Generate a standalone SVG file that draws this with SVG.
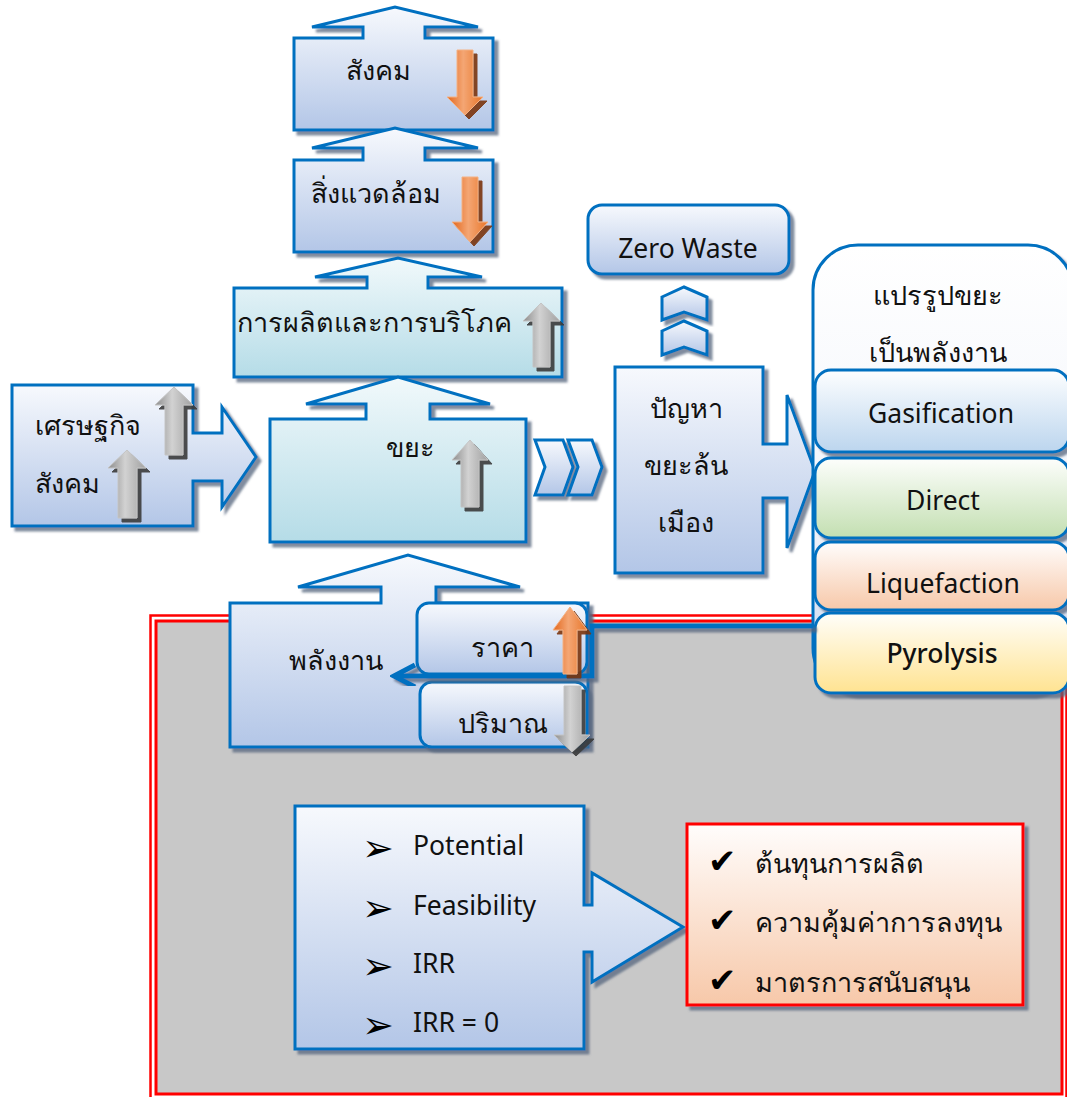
<svg xmlns="http://www.w3.org/2000/svg" width="1067" height="1097" viewBox="0 0 1067 1097">
  <style>
    .box { stroke: #0070c0; stroke-width: 3; stroke-linejoin: miter; filter: url(#shadow); }
    .blue { fill: url(#gBlue); }
    .cyan { fill: url(#gCyan); }
    .th { font-family: "Noto Sans", "DejaVu Sans", sans-serif; font-size: 27px; fill: #111; }
    .en { font-family: "Noto Sans", "Liberation Sans", sans-serif; font-size: 26.5px; fill: #111; }
    .mid { text-anchor: middle; }
    .garr { fill: url(#gGray); stroke: #c4c4c4; stroke-width: 1; filter: url(#darkShadow); }
    .oarr { fill: url(#gOrange); stroke: #f4b183; stroke-width: 1; filter: url(#brownShadow); }
    .sym { font-family: "DejaVu Sans", sans-serif; fill: #000; }
  </style>
  <defs>
    <linearGradient id="gBlue" x1="0" y1="0" x2="0" y2="1">
      <stop offset="0" stop-color="#f7f9fd"/>
      <stop offset="1" stop-color="#b3c6e7"/>
    </linearGradient>
    <linearGradient id="gCyan" x1="0" y1="0" x2="0" y2="1">
      <stop offset="0" stop-color="#f1f9fb"/>
      <stop offset="1" stop-color="#b5dce7"/>
    </linearGradient>
    <linearGradient id="gWhiteBlue" x1="0" y1="0" x2="0" y2="1">
      <stop offset="0" stop-color="#ffffff"/>
      <stop offset="0.6" stop-color="#f2f5fb"/>
      <stop offset="1" stop-color="#c9d6ee"/>
    </linearGradient>
    <linearGradient id="gGas" x1="0" y1="0" x2="0" y2="1">
      <stop offset="0" stop-color="#fdfeff"/>
      <stop offset="1" stop-color="#bcd5ee"/>
    </linearGradient>
    <linearGradient id="gGreen" x1="0" y1="0" x2="0" y2="1">
      <stop offset="0" stop-color="#fdfefc"/>
      <stop offset="1" stop-color="#c3dfb1"/>
    </linearGradient>
    <linearGradient id="gPeach" x1="0" y1="0" x2="0" y2="1">
      <stop offset="0" stop-color="#fffdfc"/>
      <stop offset="1" stop-color="#f7c8a9"/>
    </linearGradient>
    <linearGradient id="gYellow" x1="0" y1="0" x2="0" y2="1">
      <stop offset="0" stop-color="#fffefa"/>
      <stop offset="1" stop-color="#ffe391"/>
    </linearGradient>
    <linearGradient id="gGray" x1="0" y1="0" x2="1" y2="0">
      <stop offset="0" stop-color="#8c8c8c"/>
      <stop offset="0.45" stop-color="#d2d2d2"/>
      <stop offset="1" stop-color="#a0a0a0"/>
    </linearGradient>
    <linearGradient id="gOrange" x1="0" y1="0" x2="1" y2="0">
      <stop offset="0" stop-color="#e2661c"/>
      <stop offset="0.45" stop-color="#f4a674"/>
      <stop offset="1" stop-color="#e8762a"/>
    </linearGradient>
    <filter id="shadow" x="-10%" y="-10%" width="130%" height="130%">
      <feGaussianBlur in="SourceAlpha" stdDeviation="1"/>
      <feOffset dx="4" dy="4" result="o"/>
      <feFlood flood-color="#56667e" flood-opacity="0.75"/>
      <feComposite in2="o" operator="in" result="s"/>
      <feMerge><feMergeNode in="s"/><feMergeNode in="SourceGraphic"/></feMerge>
    </filter>
    <filter id="darkShadow" x="-30%" y="-10%" width="160%" height="130%">
      <feGaussianBlur in="SourceAlpha" stdDeviation="0.5"/>
      <feOffset dx="4" dy="4" result="o"/>
      <feFlood flood-color="#3a3a3a" flood-opacity="0.9"/>
      <feComposite in2="o" operator="in" result="s"/>
      <feMerge><feMergeNode in="s"/><feMergeNode in="SourceGraphic"/></feMerge>
    </filter>
    <filter id="brownShadow" x="-30%" y="-10%" width="160%" height="130%">
      <feGaussianBlur in="SourceAlpha" stdDeviation="0.5"/>
      <feOffset dx="4" dy="4" result="o"/>
      <feFlood flood-color="#7a3510" flood-opacity="0.9"/>
      <feComposite in2="o" operator="in" result="s"/>
      <feMerge><feMergeNode in="s"/><feMergeNode in="SourceGraphic"/></feMerge>
    </filter>
    <!-- open chevron head, pointing along the path direction -->
    <marker id="openHead" viewBox="0 0 28 28" refX="24" refY="14" markerWidth="28" markerHeight="28" markerUnits="userSpaceOnUse" orient="auto">
      <path d="M3,3 L24,14 L3,25" fill="none" stroke="#0070c0" stroke-width="5"/>
    </marker>
  </defs>

  <rect width="1067" height="1097" fill="#ffffff"/>

  <!-- evaluation frame (double red line, grey field) -->
  <g id="frame">
    <rect x="150.5" y="615.5" width="916" height="490" fill="none" stroke="#ff0000" stroke-width="2.5"/>
    <rect x="156" y="621" width="906" height="473" fill="#c8c8c8" stroke="#ff0000" stroke-width="3"/>
  </g>

  <!-- society -->
  <g id="society">
    <path class="box blue" d="M294,38 H363 V27 H312 L395,7 L478,27 H425 V38 H493 V130 H294 Z"/>
    <text class="th mid" x="378" y="80">สังคม</text>
    <path class="oarr" d="M457,50 H473 V97 H483 L465,115 L447,97 H457 Z"/>
  </g>

  <!-- environment -->
  <g id="environment">
    <path class="box blue" d="M294,160 H363 V148 H312 L395,128 L478,148 H425 V160 H493 V252 H294 Z"/>
    <text class="th mid" x="376" y="203">สิ่งแวดล้อม</text>
    <path class="oarr" d="M462,177 H478 V222 H488 L470,242 L452,222 H462 Z"/>
  </g>

  <!-- production and consumption -->
  <g id="production">
    <path class="box cyan" d="M234,288 H367 V277 H315 L398,258 L482,277 H428 V288 H562 V377 H234 Z"/>
    <text class="th mid" x="374" y="332">การผลิตและการบริโภค</text>
    <path class="garr" d="M541,303 L560,321 H550 V367 H533 V321 H523 Z"/>
  </g>

  <!-- waste -->
  <g id="waste">
    <path class="box cyan" d="M270,419 H366 V404 H306 L398,377 L490,404 H430 V419 H526 V542 H270 Z"/>
    <text class="th mid" x="410" y="457">ขยะ</text>
    <path class="garr" d="M470,440 L488,460 H479 V507 H461 V460 H452 Z"/>
  </g>

  <!-- economy / society drivers -->
  <g id="economy">
    <path class="box blue" d="M12,385 H193 V433 H222 V407 L256,457 L222,507 V481 H193 V526 H12 Z"/>
    <text class="th" x="35" y="435">เศรษฐกิจ</text>
    <text class="th" x="35" y="493">สังคม</text>
    <path class="garr" d="M174,387 L193,405 H183 V455 H165 V405 H155 Z"/>
    <path class="garr" d="M127,450 L146,468 H137 V518 H118 V468 H108 Z"/>
  </g>

  <!-- flow chevrons -->
  <g id="chevrons">
    <path class="box blue" d="M535,440 H563 L573,467 L563,495 H535 L545,467 Z"/>
    <path class="box blue" d="M568,440 H592 L602,467 L592,495 H568 L578,467 Z"/>
  </g>

  <!-- urban waste problem -->
  <g id="problem">
    <path class="box blue" d="M615,367 H763 V444 H787 V395 L815,471 L787,548 V498 H763 V573 H615 Z"/>
    <text class="th mid" x="686" y="418">ปัญหา</text>
    <text class="th mid" x="686" y="475">ขยะล้น</text>
    <text class="th mid" x="686" y="532">เมือง</text>
  </g>

  <!-- up chevrons towards zero waste -->
  <g id="upChevrons">
    <path class="box blue" d="M662,297 L684,287 L707,297 V320 L684,312 L662,320 Z"/>
    <path class="box blue" d="M662,331 L684,321 L707,331 V355 L684,347 L662,355 Z"/>
  </g>

  <!-- zero waste -->
  <g id="zeroWaste">
    <rect class="box blue" x="588" y="205" width="201" height="69" rx="14"/>
    <text class="en mid" x="688" y="258">Zero Waste</text>
  </g>

  <!-- waste-to-energy technologies -->
  <g id="wasteToEnergy">
    <rect class="box" x="813" y="245" width="260" height="448" rx="45" fill="url(#gWhiteBlue)"/>
    <text class="th mid" x="938" y="305">แปรรูปขยะ</text>
    <text class="th mid" x="938" y="362">เป็นพลังงาน</text>
  </g>
  <g id="gasification">
    <rect class="box" x="815" y="370" width="254" height="82" rx="16" fill="url(#gGas)"/>
    <text class="en mid" x="941" y="423">Gasification</text>
  </g>
  <g id="direct">
    <rect class="box" x="815" y="458" width="254" height="80" rx="16" fill="url(#gGreen)"/>
    <text class="en mid" x="943" y="510">Direct</text>
  </g>
  <g id="liquefaction">
    <rect class="box" x="815" y="542" width="254" height="68" rx="16" fill="url(#gPeach)"/>
    <text class="en mid" x="943" y="593">Liquefaction</text>
  </g>
  <g id="pyrolysis">
    <rect class="box" x="815" y="613" width="254" height="80" rx="16" fill="url(#gYellow)"/>
    <text class="en mid" x="942" y="663" style="font-weight:500">Pyrolysis</text>
  </g>

  <!-- energy -->
  <g id="energy">
    <path class="box blue" d="M230,603 H381 V587 H298 L408,555 L520,587 H436 V603 H588 V747 H230 Z"/>
    <text class="th mid" x="336" y="670">พลังงาน</text>
  </g>

  <!-- price -->
  <g id="price">
    <rect class="box blue" x="417" y="603" width="170" height="71" rx="12"/>
    <text class="th mid" x="502" y="657">ราคา</text>
  </g>

  <!-- quantity -->
  <g id="quantity">
    <rect class="box blue" x="420" y="682" width="167" height="65" rx="12"/>
    <text class="th mid" x="503" y="733">ปริมาณ</text>
    <path class="garr" d="M564,686 H581 V735 H590 L572,752 L554,735 H564 Z"/>
  </g>

  <!-- connector from the technologies back to energy -->
  <g id="connectors">
    <path d="M813,626 H592 V676 H394" fill="none" stroke="#0070c0" stroke-width="5" marker-end="url(#openHead)" filter="url(#shadow)"/>
  </g>

  <g id="priceArrow">
    <path class="oarr" d="M570,607 L587,630 H577 V674 H563 V630 H553 Z"/>
  </g>

  <!-- indicators -->
  <g id="indicators">
    <path class="box blue" d="M295,806 H584 V905 H592 V873 L683,927 L592,982 V952 H584 V1049 H295 Z"/>
    <text class="sym" x="362" y="861" font-size="38">➢</text>
    <text class="en" x="413" y="855">Potential</text>
    <text class="sym" x="362" y="921" font-size="38">➢</text>
    <text class="en" x="413" y="915">Feasibility</text>
    <text class="sym" x="362" y="979" font-size="38">➢</text>
    <text class="en" x="413" y="973">IRR</text>
    <text class="sym" x="362" y="1038" font-size="38">➢</text>
    <text class="en" x="413" y="1032">IRR = 0</text>
  </g>

  <!-- outcomes -->
  <g id="outcomes">
    <rect x="687" y="824" width="336" height="181" fill="url(#gPeach)" stroke="#ff0000" stroke-width="3" filter="url(#shadow)"/>
    <text class="sym" x="708" y="873" font-size="34">✔</text>
    <text class="th" x="755" y="873">ต้นทุนการผลิต</text>
    <text class="sym" x="708" y="932" font-size="34">✔</text>
    <text class="th" x="755" y="932">ความคุ้มค่าการลงทุน</text>
    <text class="sym" x="708" y="992" font-size="34">✔</text>
    <text class="th" x="755" y="992">มาตรการสนับสนุน</text>
  </g>
</svg>
